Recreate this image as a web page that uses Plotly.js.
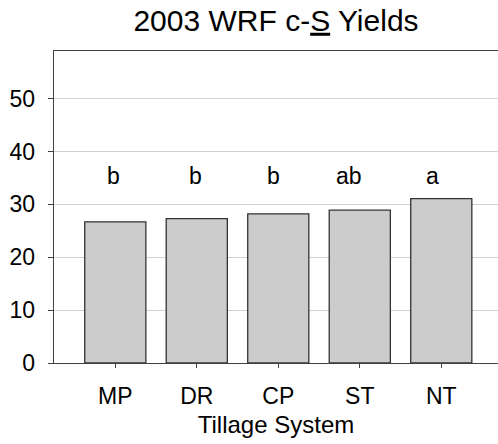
<!DOCTYPE html>
<html>
<head>
<meta charset="utf-8">
<script src="https://cdn.plot.ly/plotly-3.0.1.min.js"></script>
<style>html,body{margin:0;padding:0;background:#fff;}#chart{width:498px;height:444px;}</style>
</head>
<body>
<div id="chart"></div>
<script>
var categories = ["MP", "DR", "CP", "ST", "NT"];
var yields = [26.7, 27.3, 28.2, 28.9, 31.1];
var letters = ["b", "b", "b", "ab", "a"];
var letterLevel = 32.6;
var yTicks = [0, 10, 20, 30, 40, 50];

var letterShift = [-2, -1, -5, -11, -9];
var FONT = "Liberation Sans, Arial, sans-serif";

var annotations = letters.map(function (t, i) {
  return {
    x: categories[i], y: letterLevel, xref: "x", yref: "y",
    text: t, showarrow: false, yanchor: "bottom", xanchor: "center",
    xshift: letterShift[i],
    font: {family: FONT, size: 23, color: "#000"}
  };
});

var trace = {
  type: "bar",
  x: categories,
  y: yields,
  marker: {color: "#cccccc", line: {color: "#333333", width: 1.3}},
  hoverinfo: "none"
};

var layout = {
  width: 498, height: 444,
  margin: {l: 54, r: 0, t: 50.6, b: 80.7, pad: 0},
  paper_bgcolor: "#ffffff", plot_bgcolor: "#ffffff",
  showlegend: false,
  bargap: 0.25,
  font: {family: FONT, color: "#000"},
  title: {
    text: "2003 WRF c-<u>S</u> Yields",
    font: {family: FONT, size: 30, color: "#000"},
    x: 0.5, xref: "paper", xanchor: "center",
    y: 0.978, yref: "container", yanchor: "top"
  },
  xaxis: {
    range: [-0.752, 4.696],
    showline: true, linecolor: "#404040", linewidth: 1.3, mirror: true,
    ticks: "outside", ticklen: 4, tickcolor: "#404040", tickwidth: 1,
    showgrid: false, zeroline: false,
    tickfont: {family: FONT, size: 23, color: "#000"},
    ticklabelstandoff: 8,
    title: {text: "Tillage System", font: {family: FONT, size: 24, color: "#000"}, standoff: 8}
  },
  yaxis: {
    range: [0, 59],
    tickvals: yTicks,
    ticktext: yTicks.map(String),
    showline: true, linecolor: "#404040", linewidth: 1.3, mirror: false,
    ticks: "outside", ticklen: 5, tickcolor: "#404040", tickwidth: 1,
    showgrid: true, gridcolor: "#d0d0d0", gridwidth: 1,
    zeroline: false,
    tickfont: {family: FONT, size: 23, color: "#000"},
    ticklabelstandoff: 8
  },
  annotations: annotations
};

Plotly.newPlot("chart", [trace], layout, {staticPlot: true, displayModeBar: false});
</script>
</body>
</html>
